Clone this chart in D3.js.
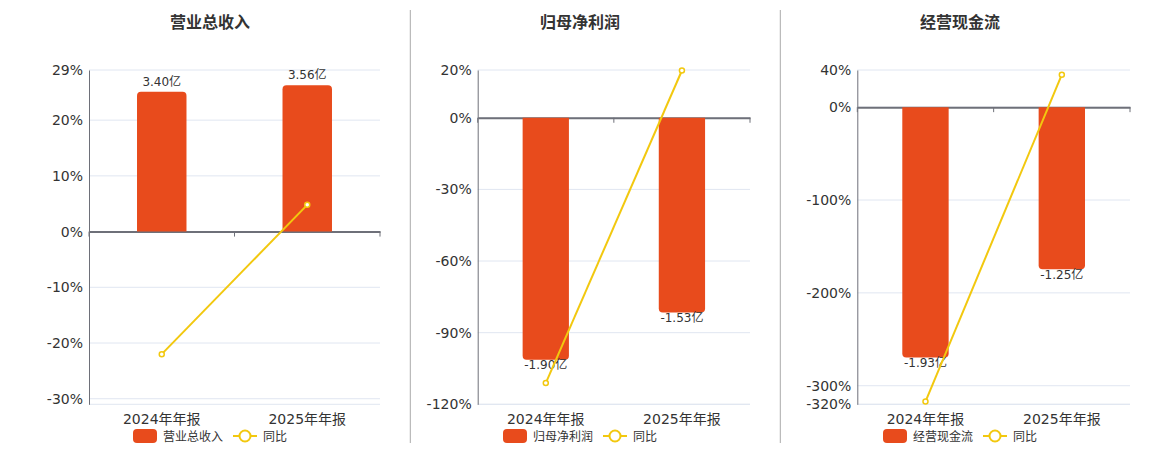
<!DOCTYPE html>
<html lang="zh">
  <head>
    <meta charset="UTF-8" />
    <title>财务指标</title>
    <script src="https://d3js.org/d3.v7.min.js"></script>
    <style>
      body { margin: 0; background: #fff; }
      text { font-family: "DejaVu Sans", "Noto Sans CJK SC", sans-serif; fill: #333; }
    </style>
  </head>
  <body>
    <svg id="chart" width="1160" height="450"></svg>
    <script>
      // data
      const periods = ["2024年年报", "2025年年报"];
      const titles = ["营业总收入", "归母净利润", "经营现金流"];
      const barValues = [
        [3.40, 3.56],
        [-1.90, -1.53],
        [-1.93, -1.25],
      ];
      const yoyValues = [
        [-22.0, 4.8],
        [-111.1, 19.8],
        [-317, 35],
      ];
      // percent axis extent and labelled ticks
      const pctDomains = [[-31, 29], [-120, 20], [-320, 40]];
      const pctTicks = [
        [29, 20, 10, 0, -10, -20, -30],
        [20, 0, -30, -60, -90, -120],
        [40, 0, -100, -200, -300, -320],
      ];
      // value (亿) at the far end of the hidden bar axis
      const barExtents = [3.93, -2.25, -2.29];

      const barColor = "#E84B1C";
      const lineColor = "#F2C80F";
      const gridColor = "#E0E6F1";
      const axisColor = "#6E7079";

      const panels = [
        { left: 89, right: 380, center: 210 },
        { left: 477.7, right: 750, center: 580 },
        { left: 857.3, right: 1130, center: 960 },
      ];
      const plotTop = 70, plotBottom = 404.3;

      const svg = d3.select("#chart");

      // dividers
      [410.3, 780.3].forEach((x) => {
        svg.append("line")
          .attr("x1", x).attr("x2", x).attr("y1", 10).attr("y2", 443)
          .attr("stroke", "#aaa").attr("stroke-width", 1);
      });

      panels.forEach((p, i) => {
        const g = svg.append("g");

        const x = d3.scaleBand().domain(periods).range([p.left, p.right]);
        const y = d3.scaleLinear().domain(pctDomains[i]).range([plotBottom, plotTop]);

        // bar scale shares the zero line with the percent axis
        const [pMin, pMax] = pctDomains[i];
        const ext = barExtents[i];
        const barDom = ext > 0 ? [ext * pMin / pMax, ext] : [ext, ext * pMax / pMin];
        const yb = d3.scaleLinear().domain(barDom).range([plotBottom, plotTop]);

        // title
        g.append("text")
          .attr("x", p.center).attr("y", 28)
          .attr("text-anchor", "middle")
          .style("font-size", "16px").style("font-weight", "bold")
          .text(titles[i]);

        // grid lines
        g.selectAll(".grid")
          .data(pctTicks[i].concat([pMin]))
          .enter().append("line")
          .attr("x1", p.left).attr("x2", p.right)
          .attr("y1", (d) => y(d)).attr("y2", (d) => y(d))
          .attr("stroke", gridColor).attr("stroke-width", 1);

        // y axis
        const yAxis = g.append("g")
          .attr("transform", `translate(${p.left},0)`)
          .call(d3.axisLeft(y).tickValues(pctTicks[i]).tickSize(0).tickPadding(6)
            .tickFormat((d) => d + "%"));
        yAxis.select(".domain").attr("stroke", axisColor);
        yAxis.selectAll("text").style("font-size", "14px").attr("fill", "#333");

        // x axis on zero line
        const xAxis = g.append("g")
          .attr("transform", `translate(0,${y(0)})`)
          .call(d3.axisBottom(x).tickSize(0).tickFormat(""));
        xAxis.select(".domain").attr("stroke", axisColor).attr("stroke-width", 2);
        xAxis.selectAll(".tick").remove();
        const edges = periods.map((d) => x(d)).concat([p.right]);
        g.selectAll(".xtick")
          .data(edges)
          .enter().append("line")
          .attr("x1", (d) => d).attr("x2", (d) => d)
          .attr("y1", y(0)).attr("y2", y(0) + 5)
          .attr("stroke", axisColor);

        // category labels
        g.selectAll(".xlabel")
          .data(periods)
          .enter().append("text")
          .attr("x", (d) => x(d) + x.bandwidth() / 2)
          .attr("y", 424)
          .attr("text-anchor", "middle")
          .style("font-size", "14px")
          .text((d) => d);

        // bars
        const bw = x.bandwidth() * 0.34;
        const r = 4;
        const barPath = (d, j) => {
          const cx = x(periods[j]) + x.bandwidth() / 2;
          const x0 = cx - bw / 2, x1 = cx + bw / 2;
          const y0 = yb(0), y1 = yb(d);
          const s = d >= 0 ? 1 : -1;
          return `M${x0},${y0} L${x0},${y1 + s * r} Q${x0},${y1} ${x0 + r},${y1}` +
            ` L${x1 - r},${y1} Q${x1},${y1} ${x1},${y1 + s * r} L${x1},${y0} Z`;
        };
        g.selectAll(".bar")
          .data(barValues[i])
          .enter().append("path")
          .attr("d", barPath)
          .attr("fill", barColor);

        g.selectAll(".barlabel")
          .data(barValues[i])
          .enter().append("text")
          .attr("x", (d, j) => x(periods[j]) + x.bandwidth() / 2)
          .attr("y", (d) => (d >= 0 ? yb(d) - 6 : yb(d) + 9.5))
          .attr("text-anchor", "middle")
          .style("font-size", "12px")
          .text((d) => d.toFixed(2) + "亿");

        // yoy line
        const line = d3.line()
          .x((d, j) => x(periods[j]) + x.bandwidth() / 2)
          .y((d) => y(d));
        g.append("path")
          .datum(yoyValues[i])
          .attr("d", line)
          .attr("fill", "none")
          .attr("stroke", lineColor)
          .attr("stroke-width", 2);
        g.selectAll(".dot")
          .data(yoyValues[i])
          .enter().append("circle")
          .attr("cx", (d, j) => x(periods[j]) + x.bandwidth() / 2)
          .attr("cy", (d) => y(d))
          .attr("r", 2.5)
          .attr("fill", "#fff")
          .attr("stroke", lineColor)
          .attr("stroke-width", 1.5);

        // legend
        const lx = p.center - 77, ly = 436;
        g.append("rect")
          .attr("x", lx).attr("y", ly - 7).attr("width", 24).attr("height", 14)
          .attr("rx", 4).attr("fill", barColor);
        g.append("text")
          .attr("x", lx + 30).attr("y", ly + 4.5)
          .style("font-size", "12px").attr("fill", "#333")
          .text(titles[i]);
        g.append("line")
          .attr("x1", lx + 100).attr("x2", lx + 124).attr("y1", ly).attr("y2", ly)
          .attr("stroke", lineColor).attr("stroke-width", 2);
        g.append("circle")
          .attr("cx", lx + 112).attr("cy", ly).attr("r", 5.5)
          .attr("fill", "#fff").attr("stroke", lineColor).attr("stroke-width", 2);
        g.append("text")
          .attr("x", lx + 130).attr("y", ly + 4.5)
          .style("font-size", "12px")
          .text("同比");
      });
    </script>
  </body>
</html>
